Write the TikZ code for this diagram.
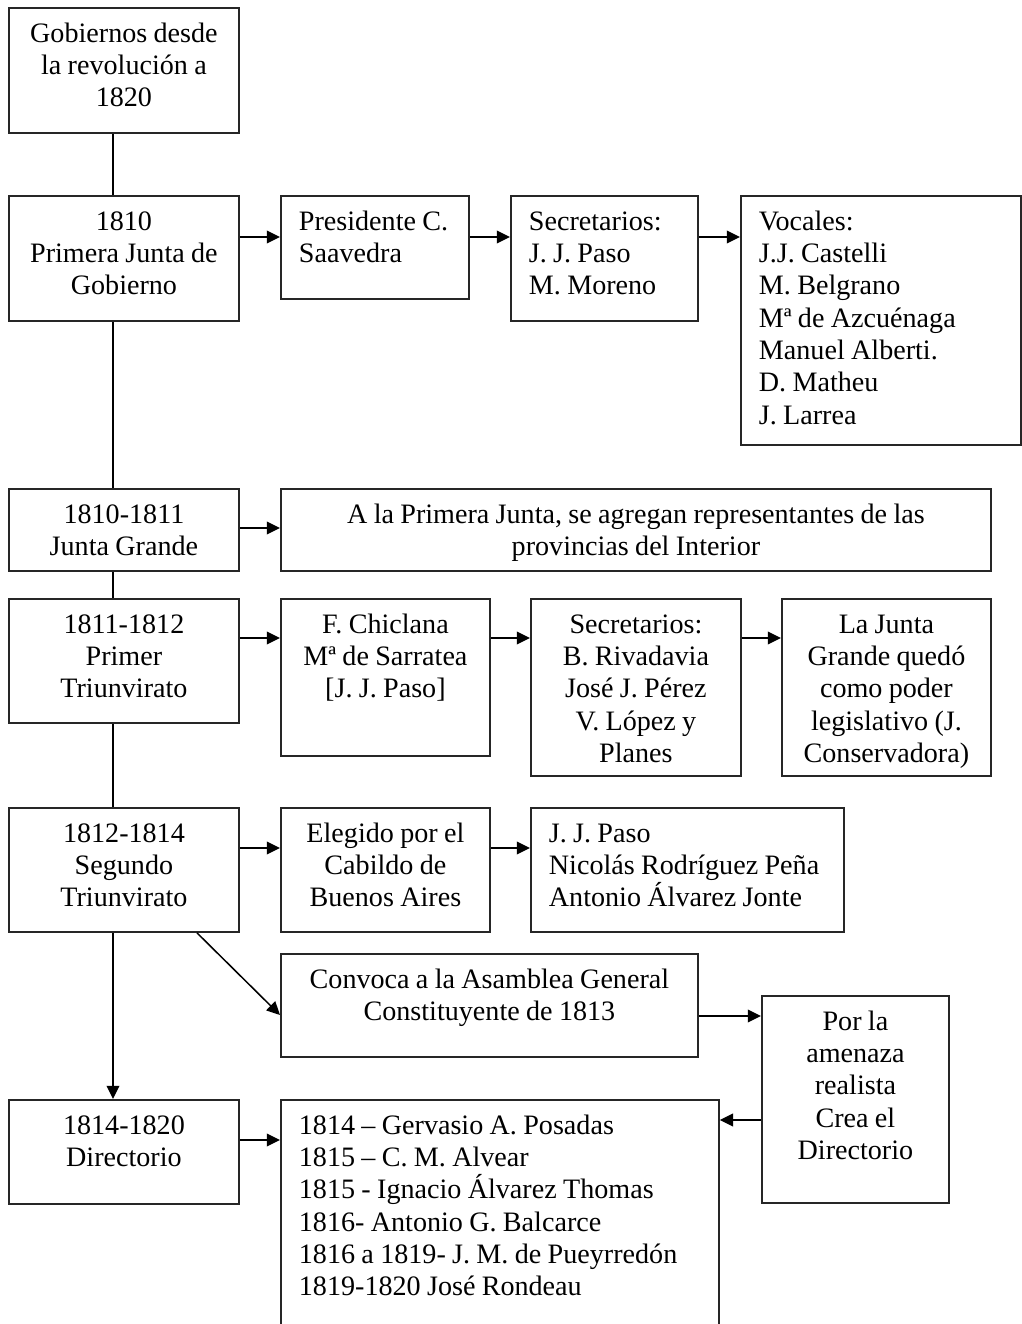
\documentclass[tikz,border=0pt]{standalone}
\usepackage{fontspec}
\setmainfont{Liberation Serif}[WordSpace=0.9]
\usetikzlibrary{arrows.meta}

\begin{document}
\begin{tikzpicture}[x=0.015cm, y=-0.015cm,
  box/.style={draw=black!85, line width=0.8pt, anchor=north west, inner xsep=7.68pt, inner ysep=0pt, text height=14.6pt, align=flush center, font=\fontsize{12pt}{13.8pt}\selectfont\frenchspacing},
  lbox/.style={box, align=flush left},
  line/.style={line width=0.65pt},
  arr/.style={-{Triangle[length=5.6pt, width=5.4pt]}, line width=0.65pt}
]
\useasboundingbox (0,0) rectangle (1022,1324);

\node[box, text width=82.8pt, text depth=38.75pt] at (8,7) (title) {Gobiernos desde\\la revolución a\\1820};
\node[box, text width=82.8pt, text depth=38.75pt] at (8,195) (pjunta) {1810\\Primera Junta de\\Gobierno};
\node[lbox, text width=64.87pt, text depth=29.36pt] at (280,195) (pres) {Presidente~C.\\Saavedra};
\node[lbox, text width=64.45pt, text depth=38.75pt] at (510,195) (secr) {Secretarios:\\J. J. Paso\\M. Moreno};
\node[lbox, text width=104.14pt, text depth=91.67pt] at (740,195) (voc) {Vocales:\\J.J. Castelli\\M. Belgrano\\Mª de Azcuénaga\\Manuel Alberti.\\D. Matheu\\J. Larrea};
\node[box, text width=82.8pt, text depth=20.4pt] at (8,488) (jgrande) {1810-1811\\Junta Grande};
\node[box, text width=287.66pt, text depth=20.4pt] at (280,488) (agreg) {A la Primera Junta, se agregan representantes de las\\provincias del Interior};
\node[box, text width=82.8pt, text depth=38.32pt] at (8,598) (ptri) {1811-1812\\Primer\\Triunvirato};
\node[box, text width=73.83pt, text depth=52.41pt] at (280,598) (chic) {F. Chiclana\\Mª de Sarratea\\{[J. J. Paso]}};
\node[box, text width=74.26pt, text depth=60.94pt] at (530,598) (secr2) {Secretarios:\\B. Rivadavia\\José J. Pérez\\V. López y\\Planes};
\node[box, text width=73.83pt, text depth=60.94pt] at (781,598) (jcons) {La Junta\\Grande quedó\\como poder\\legislativo (J.\\Conservadora)};
\node[box, text width=82.8pt, text depth=38.32pt] at (8,807) (stri) {1812-1814\\Segundo\\Triunvirato};
\node[box, text width=73.83pt, text depth=38.32pt] at (280,807) (eleg) {Elegido por el\\Cabildo de\\Buenos Aires};
\node[lbox, text width=118.2pt, text depth=38.32pt] at (530,807) (paso) {J. J. Paso\\Nicolás Rodríguez Peña\\Antonio Álvarez Jonte};
\node[box, text width=162.6pt, text depth=29.36pt] at (280,953) (conv) {Convoca a la Asamblea General\\Constituyente de 1813};
\node[box, text width=64.45pt, text depth=73.75pt] at (761,995) (amen) {Por la\\amenaza\\realista\\Crea el\\Directorio};
\node[box, text width=82.8pt, text depth=29.79pt] at (8,1099) (dir) {1814-1820\\Directorio};
\node[lbox, text width=171.57pt, text depth=88.26pt] at (280,1099) (dlist) {1814 – Gervasio A. Posadas\\1815 – C. M. Alvear\\1815 - Ignacio Álvarez Thomas\\1816- Antonio G. Balcarce\\1816 a 1819- J. M. de Pueyrredón\\1819-1820 José Rondeau};

\draw[line] (title.south -| 113,0) -- (pjunta.north -| 113,0);
\draw[line] (pjunta.south -| 113,0) -- (jgrande.north -| 113,0);
\draw[line] (jgrande.south -| 113,0) -- (ptri.north -| 113,0);
\draw[line] (ptri.south -| 113,0) -- (stri.north -| 113,0);
\draw[arr] (stri.south -| 113,0) -- (dir.north -| 113,0);
\draw[arr] (stri.south -| 197,0) -- (conv.west |- 0,1015);

\draw[arr] (pjunta.east |- 0,237) -- (pres.west |- 0,237);
\draw[arr] (pres.east |- 0,237) -- (secr.west |- 0,237);
\draw[arr] (secr.east |- 0,237) -- (voc.west |- 0,237);
\draw[arr] (jgrande.east |- 0,528) -- (agreg.west |- 0,528);
\draw[arr] (ptri.east |- 0,638) -- (chic.west |- 0,638);
\draw[arr] (chic.east |- 0,638) -- (secr2.west |- 0,638);
\draw[arr] (secr2.east |- 0,638) -- (jcons.west |- 0,638);
\draw[arr] (stri.east |- 0,848) -- (eleg.west |- 0,848);
\draw[arr] (eleg.east |- 0,848) -- (paso.west |- 0,848);
\draw[arr] (conv.east |- 0,1016) -- (amen.west |- 0,1016);
\draw[arr] (amen.west |- 0,1120) -- (dlist.east |- 0,1120);
\draw[arr] (dir.east |- 0,1140) -- (dlist.west |- 0,1140);
\end{tikzpicture}
\end{document}
